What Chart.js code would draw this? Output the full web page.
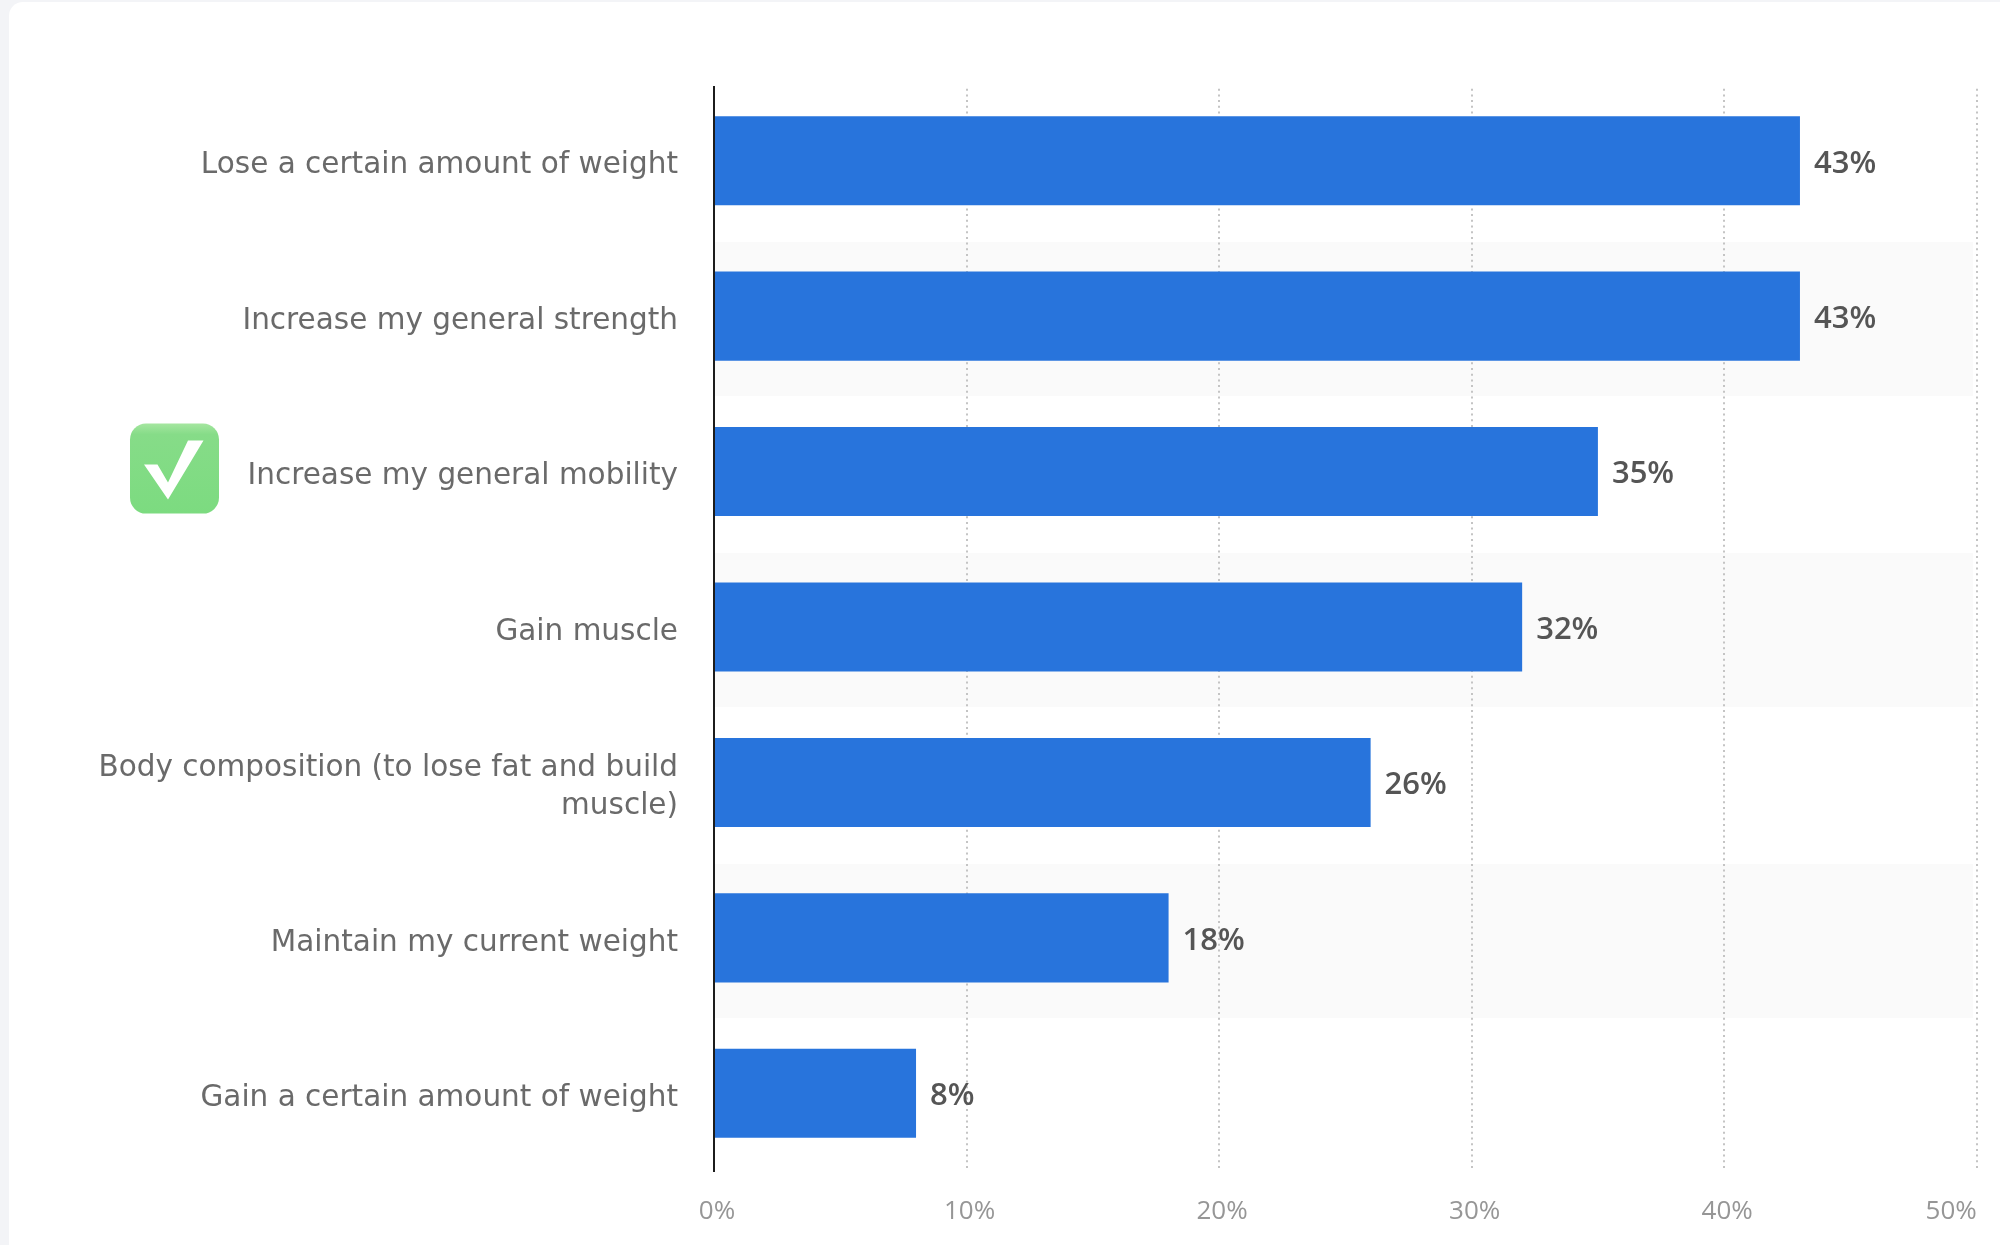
<!DOCTYPE html>
<html>
<head>
<meta charset="utf-8">
<style>
  html, body { margin: 0; padding: 0; background: #f3f4f7; }
  #card { position: absolute; left: 9px; top: 2px; width: 1991px; height: 1243px; background: #fff; border-top-left-radius: 14px; }
  #wrap { position: absolute; left: 0; top: 0; width: 2000px; height: 1245px; }
</style>
<script src="https://cdn.jsdelivr.net/npm/chart.js@4"></script>
</head>
<body>
<div id="card"></div>
<div id="wrap"><canvas id="myChart" width="2000" height="1245"></canvas></div>
<script>
const categories = [
    'Lose a certain amount of weight',
    'Increase my general strength',
    'Increase my general mobility',
    'Gain muscle',
    ['Body composition (to lose fat and build', 'muscle)'],
    'Maintain my current weight',
    'Gain a certain amount of weight'
];
const shares = [43, 43, 35, 32, 26, 18, 8];
const axisTicks = [0, 10, 20, 30, 40, 50];
const stripedRows = [1, 3, 5];
const checkedRow = 2;

const labelFont = '"DejaVu Sans", sans-serif';
const numberFont = '"Open Sans", sans-serif';

// grey bands behind every other row, under the grid lines
const stripes = {
    id: 'stripes',
    beforeDraw(chart) {
        const { ctx, scales: { y }, chartArea } = chart;
        ctx.save();
        ctx.fillStyle = '#fafafa';
        stripedRows.forEach(i => {
            const c = y.getPixelForValue(i) + 3;
            ctx.fillRect(chartArea.left, c - 77, chartArea.width - 5, 154);
        });
        ctx.restore();
    }
};

// axis lines start a little below the top of the first row
const topTrim = {
    id: 'topTrim',
    beforeDatasetsDraw(chart) {
        const { ctx, chartArea } = chart;
        ctx.save();
        ctx.fillStyle = '#fff';
        ctx.fillRect(chartArea.left - 2, chartArea.top - 2, chartArea.width + 4, 5);
        ctx.restore();
    }
};

// percent text right of each bar
const valueLabels = {
    id: 'valueLabels',
    afterDatasetsDraw(chart) {
        const { ctx } = chart;
        ctx.save();
        ctx.font = '600 31px ' + numberFont;
        ctx.fillStyle = '#555';
        ctx.textBaseline = 'middle';
        chart.getDatasetMeta(0).data.forEach((bar, i) => {
            ctx.fillText(shares[i] + '%', bar.x + 14, bar.y + 3);
        });
        ctx.restore();
    }
};

// green check mark next to one of the labels
const checkIcon = {
    id: 'checkIcon',
    afterDraw(chart) {
        const { ctx, scales: { y } } = chart;
        const cy = y.getPixelForValue(checkedRow) - 3;
        const left = 130, top = cy - 45;
        const g = ctx.createLinearGradient(0, top, 0, top + 90);
        g.addColorStop(0, '#a5e6a0');
        g.addColorStop(0.12, '#86dc88');
        g.addColorStop(1, '#7cdb80');
        ctx.save();
        ctx.fillStyle = g;
        ctx.beginPath();
        ctx.roundRect(left, top, 89, 90, 16);
        ctx.fill();
        ctx.fillStyle = '#fff';
        ctx.beginPath();
        ctx.moveTo(left + 14, top + 41);
        ctx.lineTo(left + 27.5, top + 41);
        ctx.lineTo(left + 38, top + 59);
        ctx.lineTo(left + 58, top + 17);
        ctx.lineTo(left + 73.5, top + 17);
        ctx.lineTo(left + 38, top + 76);
        ctx.closePath();
        ctx.fill();
        ctx.restore();
    }
};

// last axis label sits left of its grid line
const lastTickRight = {
    id: 'lastTickRight',
    beforeDraw(chart) {
        const items = chart.scales.x.getLabelItems();
        const last = items[items.length - 1];
        last.options.textAlign = 'right';
        last.options.translation[0] -= 3;
    }
};

Chart.defaults.animation = false;

const myChart = new Chart(document.getElementById('myChart').getContext('2d'), {
    type: 'bar',
    data: {
        labels: categories,
        datasets: [{
            data: shares,
            backgroundColor: '#2874dc',
            categoryPercentage: 1,
            barPercentage: 0.573
        }]
    },
    options: {
        indexAxis: 'y',
        responsive: false,
        devicePixelRatio: 1,
        layout: { padding: { top: 83, right: 22 } },
        plugins: { legend: { display: false }, tooltip: { enabled: false } },
        scales: {
            x: {
                min: 0,
                max: 50.05,
                afterBuildTicks(scale) {
                    scale.ticks = axisTicks.map(v => ({ value: v }));
                },
                afterFit(scale) {
                    scale.height = 74;
                    scale.paddingLeft = 0;
                    scale.paddingRight = 0;
                },
                border: { display: false, dash: [2, 3.7] },
                grid: {
                    drawTicks: false,
                    color: ctx => ctx.tick && ctx.tick.value === 0 ? 'rgba(0,0,0,0)' : '#c4c4c4',
                    lineWidth: 2
                },
                ticks: {
                    autoSkip: false,
                    maxRotation: 0,
                    padding: 25,
                    labelOffset: 3,
                    color: '#969696',
                    font: { family: numberFont, size: 26 },
                    callback: v => v + '%'
                }
            },
            y: {
                afterFit(scale) {
                    scale.width = 714;
                },
                border: { color: '#1c1c1c', width: 2 },
                grid: { display: false },
                ticks: {
                    padding: 28,
                    labelOffset: 5,
                    color: '#6a6a6a',
                    font: { family: labelFont, size: 29.5, lineHeight: 1.3 }
                }
            }
        }
    },
    plugins: [stripes, topTrim, valueLabels, checkIcon, lastTickRight]
});
</script>
</body>
</html>
